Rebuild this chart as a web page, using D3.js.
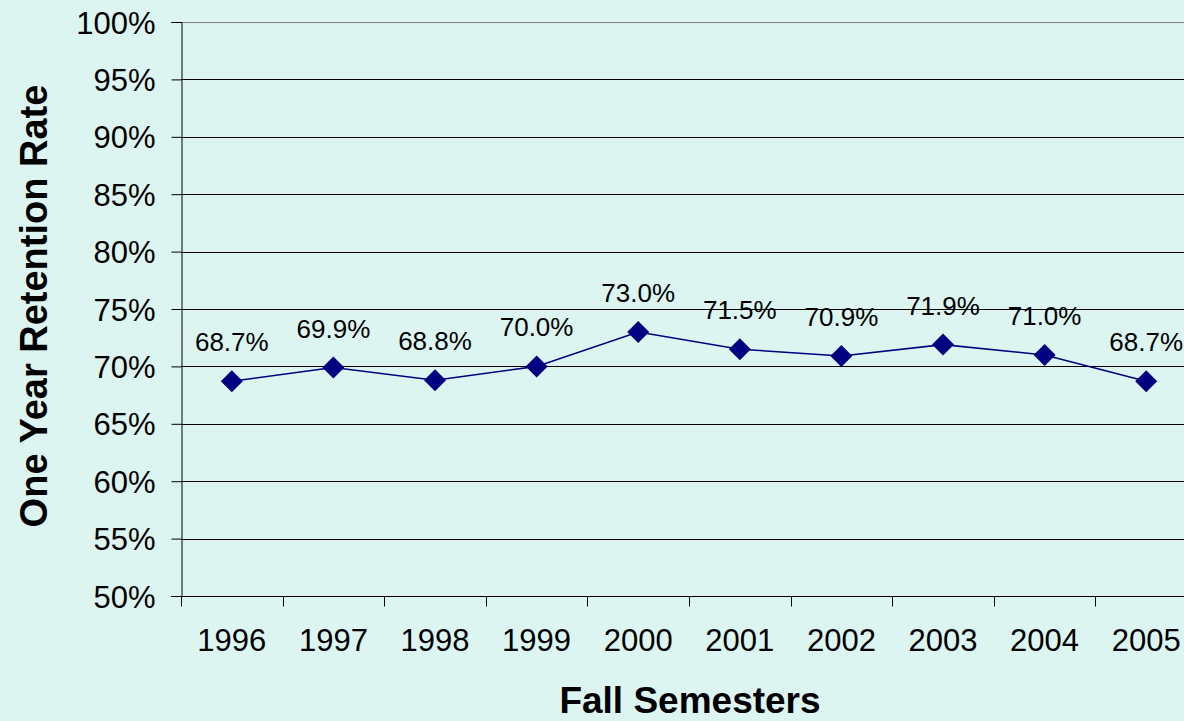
<!DOCTYPE html>
<html>
<head>
<meta charset="utf-8">
<script src="https://cdn.jsdelivr.net/npm/d3@7"></script>
<style>
  html, body { margin: 0; padding: 0; background: #dcf5f1; }
  svg { display: block; font-family: Arial, "Liberation Sans", sans-serif; }
</style>
</head>
<body>
<svg id="chart" width="1184" height="721"></svg>
<script>
const years = ['1996', '1997', '1998', '1999', '2000', '2001', '2002', '2003', '2004', '2005'];
const retention = [68.7, 69.9, 68.8, 70.0, 73.0, 71.5, 70.9, 71.9, 71.0, 68.7];
const yTicks = [50, 55, 60, 65, 70, 75, 80, 85, 90, 95, 100];

const WIDTH = 1184;
const HEIGHT = 721;
const PLOT = {left: 181, right: 1197, top: 22, bottom: 596};
const LINE_COLOR = '#000080';

const svg = d3.select('#chart');

svg.append('rect')
    .attr('width', WIDTH)
    .attr('height', HEIGHT)
    .attr('fill', '#dcf5f1');

const x = d3.scaleBand()
    .domain(years)
    .range([PLOT.left, PLOT.right])
    .padding(0);

const y = d3.scaleLinear()
    .domain([50, 100])
    .range([PLOT.bottom, PLOT.top]);

// gridlines
svg.append('g')
    .selectAll('line')
    .data(yTicks.filter(d => d > 50))
    .join('line')
    .attr('x1', PLOT.left)
    .attr('x2', WIDTH)
    .attr('y1', d => Math.round(y(d)) + 0.5)
    .attr('y2', d => Math.round(y(d)) + 0.5)
    .attr('stroke', d => d === 100 ? '#808080' : '#000')
    .attr('stroke-width', 1);

// y axis
const yAxis = svg.append('g')
    .attr('transform', `translate(${PLOT.left + 0.5},0)`)
    .call(d3.axisLeft(y)
        .tickValues(yTicks)
        .tickSize(10)
        .tickPadding(16)
        .tickFormat(d => d + '%'));
yAxis.select('.domain').attr('stroke', '#000');
yAxis.selectAll('.tick line').attr('stroke', '#000');
yAxis.selectAll('.tick text')
    .attr('font-size', 31)
    .attr('font-family', 'Arial, "Liberation Sans", sans-serif')
    .attr('fill', '#000')
    .attr('dy', '0.36em');

// x axis
const xAxis = svg.append('g')
    .attr('transform', `translate(0,${PLOT.bottom + 0.5})`)
    .call(d3.axisBottom(x)
        .tickSize(0)
        .tickPadding(54));
xAxis.select('.domain').remove();
xAxis.append('line')
    .attr('x1', PLOT.left - 10)
    .attr('x2', WIDTH)
    .attr('stroke', '#000');
xAxis.selectAll('.tick text')
    .attr('font-size', 31)
    .attr('font-family', 'Arial, "Liberation Sans", sans-serif')
    .attr('fill', '#000')
    .attr('dy', '0');

// category boundary ticks
xAxis.append('g')
    .selectAll('line')
    .data(years)
    .join('line')
    .attr('x1', d => Math.round(x(d)) + 0.5)
    .attr('x2', d => Math.round(x(d)) + 0.5)
    .attr('y1', 0)
    .attr('y2', 10)
    .attr('stroke', '#000');

const cx = d => x(d) + x.bandwidth() / 2;

// the series line
svg.append('path')
    .datum(retention)
    .attr('fill', 'none')
    .attr('stroke', LINE_COLOR)
    .attr('stroke-width', 1.6)
    .attr('d', d3.line()
        .x((d, i) => cx(years[i]))
        .y(d => y(d)));

// the markers
svg.append('g')
    .selectAll('path')
    .data(retention)
    .join('path')
    .attr('transform', (d, i) => `translate(${cx(years[i])},${y(d)})`)
    .attr('d', 'M0,-11L11,0L0,11L-11,0Z')
    .attr('fill', LINE_COLOR);

// the data labels
svg.append('g')
    .selectAll('text')
    .data(retention)
    .join('text')
    .attr('x', (d, i) => cx(years[i]))
    .attr('y', d => y(d) - 30)
    .attr('text-anchor', 'middle')
    .attr('font-size', 26)
    .attr('fill', '#000')
    .text(d => d.toFixed(1) + '%');

// axis titles
svg.append('text')
    .attr('x', 690)
    .attr('y', 713)
    .attr('text-anchor', 'middle')
    .attr('font-size', 37)
    .attr('font-weight', 'bold')
    .text('Fall Semesters');

svg.append('text')
    .attr('transform', 'translate(47,306) rotate(-90)')
    .attr('text-anchor', 'middle')
    .attr('font-size', 38)
    .attr('font-weight', 'bold')
    .text('One Year Retention Rate');
</script>
</body>
</html>
